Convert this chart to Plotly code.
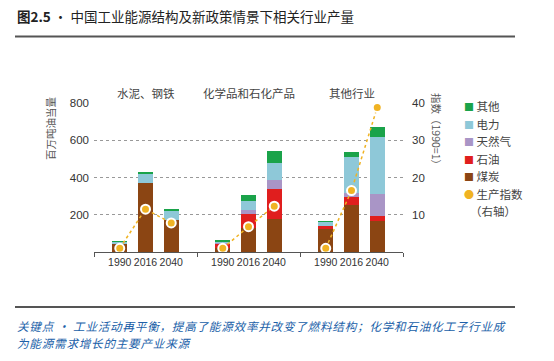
import plotly.graph_objects as go

# ---------------- data ----------------
groups = ["水泥、钢铁", "化学品和石化产品", "其他行业"]
years = ["1990", "2016", "2040"]
coal = [48, 370, 171, 22, 130, 175, 126, 254, 168]
oil = [0, 0, 0, 26, 75, 162, 14, 43, 27]
gas = [0, 0, 0, 2, 22, 52, 0, 18, 117]
elec = [8, 52, 52, 8, 47, 88, 24, 195, 303]
other = [2, 5, 4, 3, 30, 64, 2, 27, 54]
index_vals = [1, 11.5, 7.8, 1, 6.8, 12.3, 1, 16.5, 38.8]
left_ticks = [200, 400, 600, 800]
right_ticks = [10, 20, 30, 40]

series = [
    ("煤炭", coal, "#8b4513"),
    ("石油", oil, "#e01e1e"),
    ("天然气", gas, "#a995c6"),
    ("电力", elec, "#8ec8d8"),
    ("其他", other, "#1aa34a"),
]
IDX_COLOR = "#f0b323"

# positions: group g, year i -> 4g + i
xpos = [4 * g + i for g in range(len(groups)) for i in range(len(years))]
xlabels = [years[i] for g in range(len(groups)) for i in range(len(years))]

W, H = 554, 361
L, R, T, B = 94, 403, 103, 252


def px(x):
    return (x - L) / (R - L)


def py(y):
    return (B - y) / (B - T)


FONT = "Noto Sans CJK SC, Noto Sans, sans-serif"
NUMFONT = "Liberation Sans, sans-serif"

fig = go.Figure()
for name, vals, col in series:
    fig.add_trace(go.Bar(x=xpos, y=vals, name=name, marker=dict(color=col, line=dict(width=0)),
                         width=0.58, showlegend=False))

for g in range(len(groups)):
    sl = slice(3 * g, 3 * g + 3)
    fig.add_trace(go.Scatter(
        x=xpos[sl], y=index_vals[sl], yaxis="y2", mode="lines+markers",
        line=dict(color=IDX_COLOR, width=1.5, dash="dot"),
        marker=dict(color=IDX_COLOR, size=9, line=dict(color="white", width=2)),
        showlegend=False, name="生产指数"))

# invisible trace to carry separator tick marks on xaxis2
fig.add_trace(go.Scatter(x=[None], y=[None], xaxis="x2", showlegend=False, hoverinfo="skip"))

fig.update_layout(
    width=W, height=H,
    margin=dict(l=L, r=W - R, t=T, b=H - B),
    paper_bgcolor="white", plot_bgcolor="white",
    barmode="stack", bargap=0,
    font=dict(family=FONT, size=12, color="#333"),
    xaxis=dict(range=[-1, 11], tickvals=xpos, ticktext=xlabels, showgrid=False, zeroline=False,
               showline=True, linecolor="#555", linewidth=1.3, ticks="", tickangle=0,
               tickfont=dict(size=10.5, color="#333", family=NUMFONT)),
    xaxis2=dict(range=[-1, 11], overlaying="x", anchor="y", tickvals=[-1, 3, 7, 11],
                ticks="outside", ticklen=4, tickcolor="#555", tickwidth=1.2,
                showticklabels=False, showgrid=False, zeroline=False, showline=False, side="bottom"),
    yaxis=dict(range=[0, 800], tickvals=left_ticks, showgrid=True, gridcolor="#999",
               griddash="dot", gridwidth=1, zeroline=False, showline=False, ticks="",
               ticklabelstandoff=4,
               tickfont=dict(size=11.5, color="#333", family=NUMFONT)),
    yaxis2=dict(range=[0, 40], tickvals=right_ticks, overlaying="y", side="right",
                showgrid=False, zeroline=False, showline=False, ticks="", ticklabelstandoff=8,
                tickfont=dict(size=11.5, color="#333", family=NUMFONT)),
)

ann = []
# title
ann.append(dict(text="<b>图2.5</b> · 中国工业能源结构及新政策情景下相关行业产量", xref="paper", yref="paper",
                x=px(15), y=py(16), xanchor="left", yanchor="middle", showarrow=False,
                font=dict(size=13.5, color="#222", family=FONT)))
# group labels
for g, name in enumerate(groups):
    ann.append(dict(text=name, xref="x", yref="paper", x=4 * g + 1, y=py(93), xanchor="center",
                    yanchor="middle", showarrow=False, font=dict(size=11.5, color="#444", family=FONT)))
# axis titles
ann.append(dict(text="百万吨油当量", xref="paper", yref="paper", x=px(50), y=py(128), textangle=-90,
                xanchor="center", yanchor="middle", showarrow=False,
                font=dict(size=10.5, color="#555", family=FONT)))
ann.append(dict(text="指数（1990=1）", xref="paper", yref="paper", x=px(437), y=py(131), textangle=90,
                xanchor="center", yanchor="middle", showarrow=False,
                font=dict(size=10.5, color="#555", family=FONT)))
# legend (manual)
legend_items = [("其他", "#1aa34a", "■"), ("电力", "#8ec8d8", "■"), ("天然气", "#a995c6", "■"),
                ("石油", "#e01e1e", "■"), ("煤炭", "#8b4513", "■"), ("生产指数", IDX_COLOR, "●")]
for k, (lab, col, sym) in enumerate(legend_items):
    y0 = 106 + k * 17.5
    ann.append(dict(text=f'<span style="color:{col};font-size:10px">{sym}</span> {lab}', xref="paper",
                    yref="paper", x=px(462), y=py(y0), xanchor="left", yanchor="middle", showarrow=False,
                    font=dict(size=11.5, color="#444", family=FONT)))
ann.append(dict(text="（右轴）", xref="paper", yref="paper", x=px(468), y=py(106 + 6 * 17.5),
                xanchor="left", yanchor="middle", showarrow=False,
                font=dict(size=11.5, color="#444", family=FONT)))
# caption
cap_lines = ["关键点 · 工业活动再平衡，提高了能源效率并改变了燃料结构；化学和石油化工子行业成",
             "为能源需求增长的主要产业来源"]
for i, line in enumerate(cap_lines):
    ann.append(dict(text=f'<i><span style="letter-spacing:0.75px">{line}</span></i>',
                    xref="paper", yref="paper", x=px(15), y=py(326 + 17 * i), xanchor="left",
                    yanchor="middle", align="left", showarrow=False,
                    font=dict(size=11.6, color="#2060a8", family=FONT)))
fig.update_layout(annotations=ann)

fig.update_layout(shapes=[
    dict(type="line", xref="paper", yref="paper", x0=px(15), x1=px(515), y0=py(36.5), y1=py(36.5),
         line=dict(color="#555", width=1.8)),
    dict(type="line", xref="paper", yref="paper", x0=px(15), x1=px(515), y0=py(307), y1=py(307),
         line=dict(color="#555", width=1.8)),
])

fig.write_html("out.html", config={"displayModeBar": False},
               post_script="document.body.style.margin='0';")
